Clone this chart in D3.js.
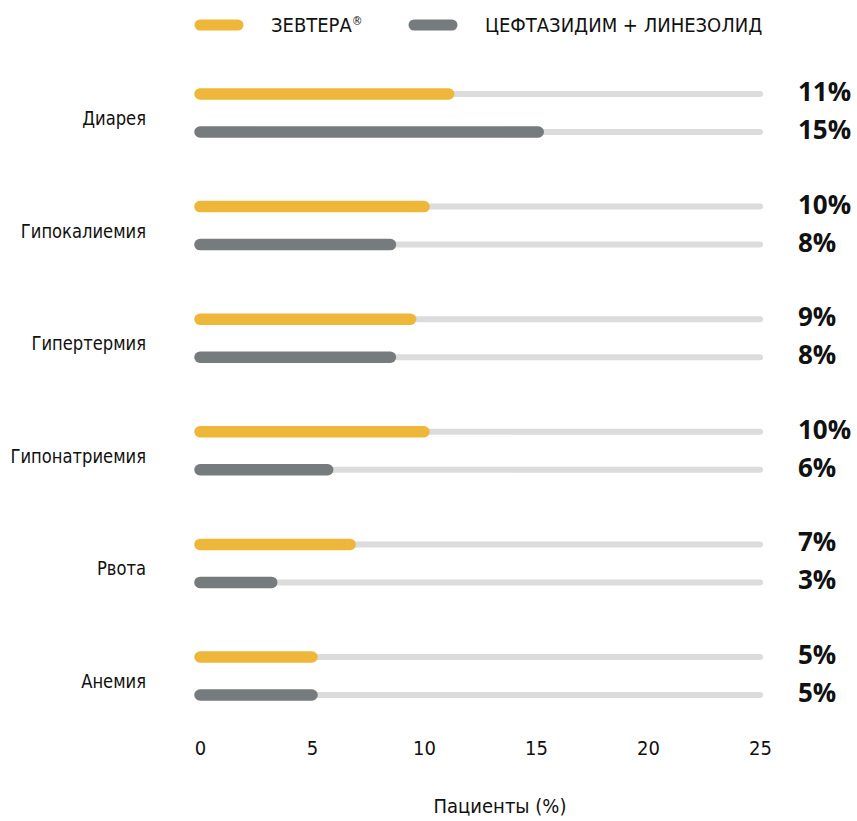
<!DOCTYPE html>
<html>
<head>
<meta charset="utf-8">
<script src="https://cdn.jsdelivr.net/npm/d3@7"></script>
<style>
  body { margin: 0; background: #fff; }
  svg { display: block; }
</style>
</head>
<body>
<svg id="chart"></svg>
<script>
// Data
var categories = ["Диарея", "Гипокалиемия", "Гипертермия", "Гипонатриемия", "Рвота", "Анемия"]
var zevtera = [11.1, 10.0, 9.4, 10.0, 6.7, 5.0]
var comparator = [15.1, 8.5, 8.5, 5.7, 3.2, 5.0]
var zevteraLabels = ["11%", "10%", "9%", "10%", "7%", "5%"]
var comparatorLabels = ["15%", "8%", "8%", "6%", "3%", "5%"]
var seriesNames = ["ЗЕВТЕРА", "ЦЕФТАЗИДИМ + ЛИНЕЗОЛИД"]
var seriesMarks = ["®", ""]
var xTicks = [0, 5, 10, 15, 20, 25]
var xTitle = "Пациенты (%)"

var width = 857, height = 821
var yellow = "#efb73a", grey = "#767b7e", track = "#dcdcdc"
var labelFont = "'Liberation Sans Narrow', 'DejaVu Sans Condensed', sans-serif"

var svg = d3.select("#chart").attr("width", width).attr("height", height)

var x = d3.scaleLinear().domain([0, 25]).range([200, 760])
var y = d3.scalePoint().domain(categories).range([113, 676])
var offset = 19

// Legend
var legend = svg.append("g").attr("class", "legend")
var legendColors = [yellow, grey]
var legendX = [200, 414]
seriesNames.forEach(function(name, i) {
  legend.append("line")
    .attr("x1", legendX[i]).attr("x2", legendX[i] + 38)
    .attr("y1", 25).attr("y2", 25)
    .attr("stroke", legendColors[i]).attr("stroke-width", 11)
    .attr("stroke-linecap", "round")
  var t = legend.append("text")
    .attr("x", legendX[i] + 71).attr("y", 32)
    .attr("font-family", labelFont).attr("font-size", 20)
    .attr("fill", "#111")
  t.append("tspan").text(name)
  if (seriesMarks[i]) {
    t.append("tspan")
      .attr("font-size", 12).attr("dy", -7)
      .text(seriesMarks[i])
  }
})

// Rows
var rows = svg.append("g").selectAll("g")
  .data(categories)
  .join("g")

function drawBar(sel, dy, values, labels, color) {
  sel.append("line")
    .attr("x1", x(0)).attr("x2", x(25))
    .attr("y1", function(d) { return y(d) + dy })
    .attr("y2", function(d) { return y(d) + dy })
    .attr("stroke", track).attr("stroke-width", 6)
    .attr("stroke-linecap", "round")
  sel.append("line")
    .attr("x1", x(0))
    .attr("x2", function(d, i) { return x(values[i]) })
    .attr("y1", function(d) { return y(d) + dy })
    .attr("y2", function(d) { return y(d) + dy })
    .attr("stroke", color).attr("stroke-width", 11.5)
    .attr("stroke-linecap", "round")
  sel.append("text")
    .attr("x", 798)
    .attr("y", function(d) { return y(d) + dy + 7 })
    .attr("font-family", "'Open Sans', sans-serif")
    .attr("font-weight", 700).attr("font-size", 26)
    .attr("fill", "#111")
    .text(function(d, i) { return labels[i] })
}

drawBar(rows, -offset, zevtera, zevteraLabels, yellow)
drawBar(rows, offset, comparator, comparatorLabels, grey)

// Category labels (narrowed to mimic the condensed face)
rows.append("text")
  .attr("transform", function(d) { return "translate(146," + (y(d) + 12) + ") scale(0.91,1)" })
  .attr("text-anchor", "end")
  .attr("font-family", labelFont).attr("font-size", 20)
  .attr("fill", "#111")
  .text(function(d) { return d })

// X axis (labels only)
var axis = svg.append("g")
  .attr("transform", "translate(0,748)")
  .call(d3.axisBottom(x).tickValues(xTicks).tickSize(0).tickPadding(0))
axis.select(".domain").remove()
axis.selectAll("text")
  .attr("dy", "0.35em")
  .attr("font-family", labelFont).attr("font-size", 20)
  .attr("fill", "#111")

svg.append("text")
  .attr("x", 500).attr("y", 813)
  .attr("text-anchor", "middle")
  .attr("font-family", labelFont).attr("font-size", 20)
  .attr("fill", "#111")
  .text(xTitle)
</script>
</body>
</html>
